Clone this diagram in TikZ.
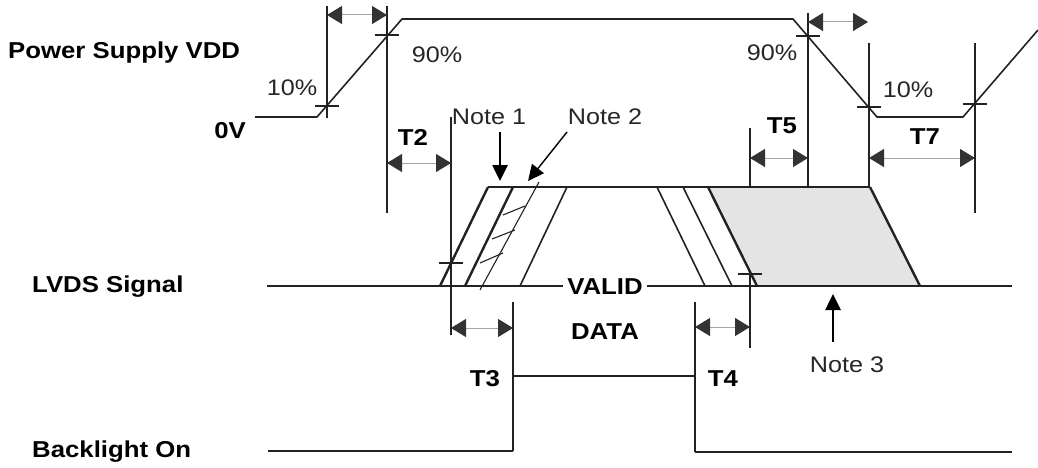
\documentclass[tikz,border=0pt]{standalone}
\usepackage{fontspec}
\setmainfont{Liberation Sans}[FakeStretch=1.12]
\usetikzlibrary{arrows.meta}
\definecolor{ink}{HTML}{222222}
\definecolor{shadegray}{HTML}{E4E4E4}
\tikzset{
  sig/.style={draw=ink, line width=1.6pt, line join=round},
  sigbold/.style={draw=ink, line width=2.4pt, line join=round},
  guide/.style={draw=ink, line width=1.1pt},
  dimarrow/.style={draw=black!35, line width=1pt,
    {Triangle[length=15pt,width=18pt,color=black!80]}-{Triangle[length=15pt,width=18pt,color=black!80]}},
  notearrow/.style={draw=black, line width=2.6pt, -{Triangle[length=16pt,width=15pt]}},
  lbl/.style={font=\fontsize{23}{26}\selectfont\bfseries, text=black, inner sep=1pt},
  pct/.style={font=\fontsize{22.5}{26}\selectfont, text=black!85, inner sep=1pt},
}
\begin{document}
\begin{tikzpicture}[x=1pt,y=-1pt]
\useasboundingbox (0,0) rectangle (1038,468);
% ---------- Power supply waveform ----------
\coordinate (p0) at (255,117);
\coordinate (p1) at (317,117);
\coordinate (p2) at (402,19);
\coordinate (p3) at (793,19);
\coordinate (p4) at (877,117);
\coordinate (p5) at (963,117);
\coordinate (p6) at (1038,30);
\draw[sig] (p0) -- (p1) -- (p2) -- (p3) -- (p4) -- (p5) -- (p6);
% 10% / 90% ticks
\coordinate (t10a) at (327,106); \coordinate (t90a) at (387,35);
\coordinate (t90b) at (808,36); \coordinate (t10b) at (869,107);
\coordinate (t10c) at (975,104);
\foreach \c in {t10a,t90a,t90b,t10b,t10c}
  \draw[guide] ([xshift=-12pt]\c) -- ([xshift=12pt]\c);
% vertical guide lines
\coordinate (v1t) at (327,6);   \coordinate (v1b) at (327,118);
\coordinate (v2t) at (387,6);   \coordinate (v2b) at (387,213);
\coordinate (v3t) at (808,13);  \coordinate (v3b) at (808,225);
\coordinate (v4t) at (869,43);  \coordinate (v4b) at (869,215);
\coordinate (v5t) at (975,43);  \coordinate (v5b) at (975,213);
\coordinate (v6t) at (451,117); \coordinate (v6b) at (451,335);
\coordinate (v7t) at (750,128); \coordinate (v7b) at (750,348);
\coordinate (v8t) at (513,302); \coordinate (v8b) at (513,451);
\coordinate (v9t) at (695,302); \coordinate (v9b) at (695,452);
\foreach \a/\b in {v1t/v1b,v2t/v2b,v3t/v3b,v4t/v4b,v5t/v5b,v6t/v6b,v7t/v7b,v8t/v8b,v9t/v9b}
  \draw[guide] (\a) -- (\b);
% dimension arrows
\coordinate (d1a) at (327,15);  \coordinate (d1b) at (387,15);
\coordinate (d2a) at (808,22);  \coordinate (d2b) at (868,22);
\coordinate (d3a) at (387,163); \coordinate (d3b) at (451,163);
\coordinate (d4a) at (750,158); \coordinate (d4b) at (808,158);
\coordinate (d5a) at (869,158); \coordinate (d5b) at (975,158);
\coordinate (d6a) at (451,328); \coordinate (d6b) at (513,328);
\coordinate (d7a) at (695,327); \coordinate (d7b) at (750,327);
\foreach \a/\b in {d1a/d1b,d2a/d2b,d3a/d3b,d4a/d4b,d5a/d5b,d6a/d6b,d7a/d7b}
  \draw[dimarrow] (\a) -- (\b);
% ---------- LVDS signal ----------
\coordinate (s1) at (708,187); \coordinate (s2) at (870,187);
\coordinate (s3) at (920,286); \coordinate (s4) at (757,286);
\fill[fill=shadegray] (s1) -- (s2) -- (s3) -- (s4) -- cycle;
\coordinate (l0) at (267,286); \coordinate (l9) at (1012,286);
\draw[sig] (l0) -- (l9);
\coordinate (tp0) at (488,187);
\draw[sig] (tp0) -- (s2);
\coordinate (e1b) at (440,286); \coordinate (e2b) at (465,286); \coordinate (e2t) at (513,187);
\draw[sigbold] (e1b) -- (tp0);
\draw[sigbold] (e2b) -- (e2t);
\draw[sigbold] (s1) -- (s4);
\draw[sigbold] (s2) -- (s3);
\coordinate (e4b) at (520,286); \coordinate (e4t) at (567,187);
\coordinate (fAt) at (657,187); \coordinate (fAb) at (705,286);
\coordinate (fBt) at (683,187); \coordinate (fBb) at (732,286);
\draw[sig] (e4b) -- (e4t);
\draw[sig] (fAt) -- (fAb);
\draw[sig] (fBt) -- (fBb);
\coordinate (n2b) at (480,290); \coordinate (n2t) at (539,182);
\draw[guide] (n2b) -- (n2t);
\coordinate (h1a) at (503,215); \coordinate (h1b) at (525,206);
\coordinate (h2a) at (492,239); \coordinate (h2b) at (515,230);
\coordinate (h3a) at (480,263); \coordinate (h3b) at (503,253);
\foreach \a/\b in {h1a/h1b,h2a/h2b,h3a/h3b} \draw[guide] (\a) -- (\b);
\coordinate (k1) at (451,263); \coordinate (k2) at (750,274);
\foreach \c in {k1,k2} \draw[guide] ([xshift=-12pt]\c) -- ([xshift=12pt]\c);
% ---------- Backlight ----------
\coordinate (b0) at (268,451); \coordinate (b1) at (513,451);
\coordinate (b2) at (513,376); \coordinate (b3) at (695,376);
\coordinate (b4) at (695,452); \coordinate (b5) at (1012,452);
\draw[sig] (b0) -- (b1);
\draw[guide] (b2) -- (b3);
\draw[sig] (b4) -- (b5);
% ---------- Note arrows ----------
\coordinate (na1) at (500,132); \coordinate (nb1) at (500,181);
\coordinate (na2) at (567,132); \coordinate (nb2) at (528,181);
\coordinate (na3) at (833,342); \coordinate (nb3) at (833,294);
\draw[notearrow] (na1) -- (nb1);
\draw[notearrow, line width=1.4pt] (na2) -- (nb2);
\draw[notearrow] (na3) -- (nb3);
% ---------- Texts ----------
\node[lbl, anchor=west] (psv) at (7,53) {Power Supply VDD};
\node[lbl, anchor=east] (zv) at (247,131) {0V};
\node[lbl, anchor=west] (lvds) at (31,287) {LVDS Signal};
\node[lbl, anchor=west] (bl) at (31,452) {Backlight On};
\node[pct] (p10a) at (292,88) {10\%};
\node[pct] (p90a) at (437,55) {90\%};
\node[pct] (p90b) at (772,53) {90\%};
\node[pct] (p10b) at (908,90) {10\%};
\node[lbl] (T2) at (413,137) {T2};
\node[lbl] (T5) at (782,126) {T5};
\node[lbl] (T7) at (925,137) {T7};
\node[lbl] (T3) at (485,379) {T3};
\node[lbl] (T4) at (723,379) {T4};
\node[pct] (N1) at (489,117) {Note 1};
\node[pct] (N2) at (605,117) {Note 2};
\node[pct] (N3) at (847,365) {Note 3};
\node[lbl, fill=white, inner xsep=4pt] (valid) at (605,287) {VALID};
\node[lbl] (data) at (605,332) {DATA};
\end{tikzpicture}
\end{document}
